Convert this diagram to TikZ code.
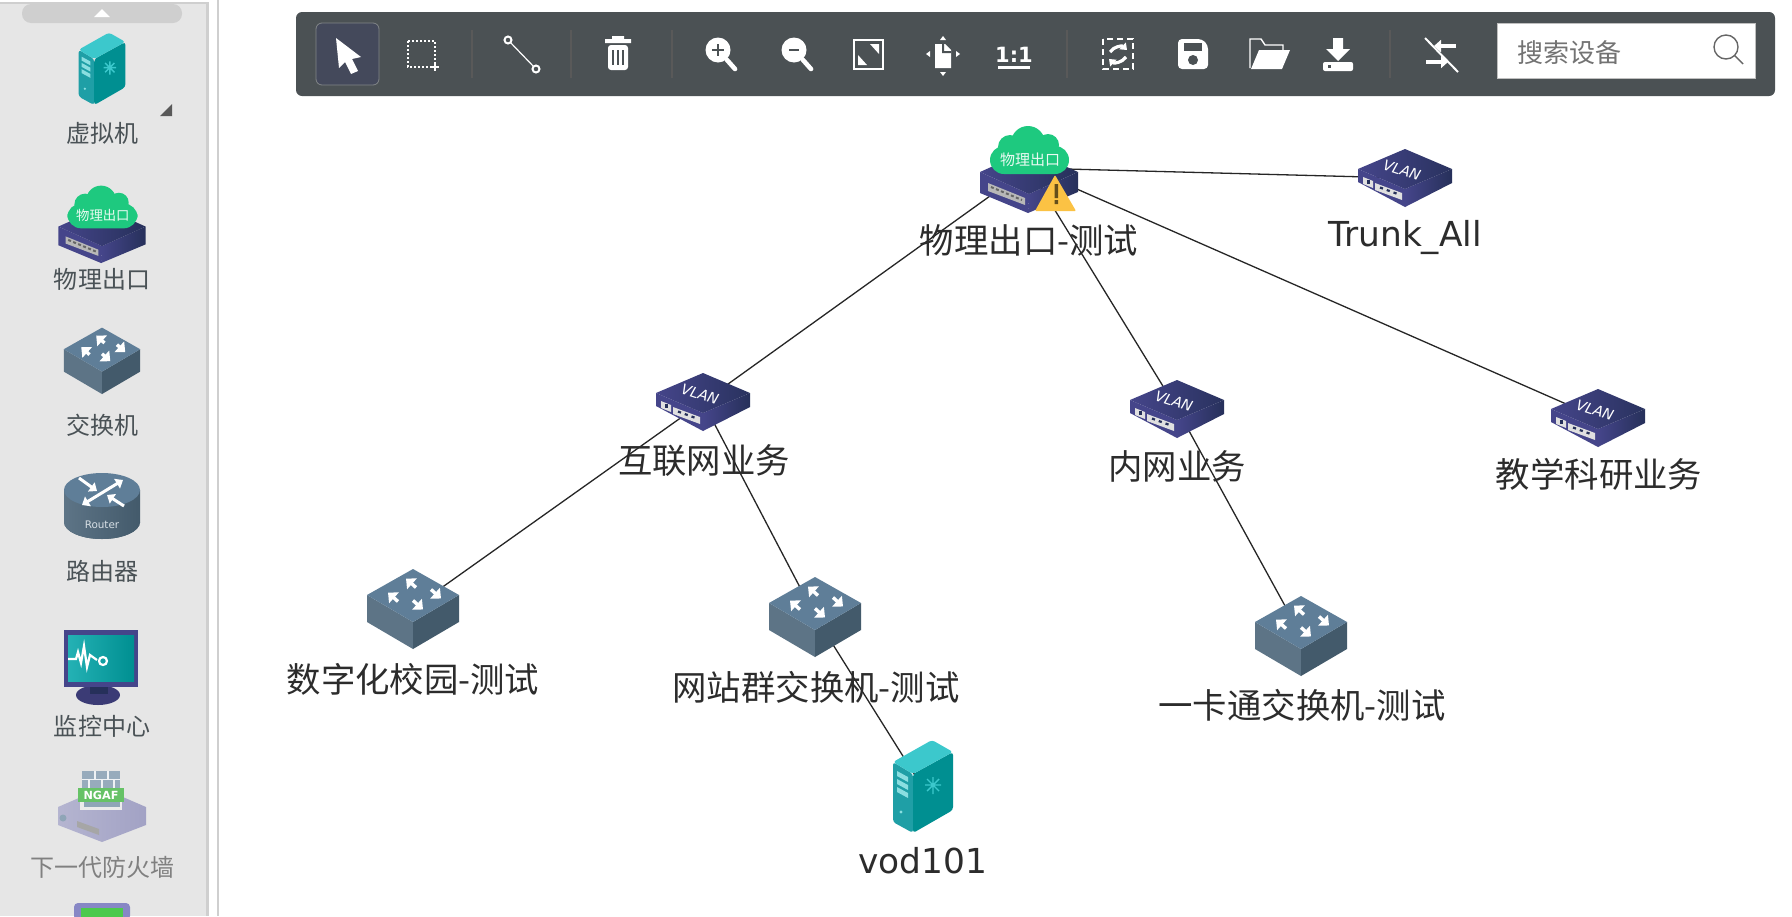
\documentclass[tikz,border=0pt]{standalone}
\usepackage{fontspec}
\usetikzlibrary{arrows.meta}
\setmainfont{DejaVu Sans}
\newfontfamily\cjk{Noto Sans CJK SC}
\definecolor{barbg}{HTML}{4B5154}
\definecolor{sidebg}{HTML}{E6E6E6}
\definecolor{sideln}{HTML}{CFCFCF}
\definecolor{sidetx}{HTML}{4A5256}
\definecolor{toptx}{HTML}{2C2C2C}
\definecolor{vlanA}{HTML}{45458A}
\definecolor{vlanB}{HTML}{26305A}
\definecolor{swtop}{HTML}{5F7E98}
\definecolor{swleft}{HTML}{5D7486}
\definecolor{swright}{HTML}{435A6B}
\definecolor{srvtop}{HTML}{3CC8CC}
\definecolor{srvleft}{HTML}{1F9FA6}
\definecolor{srvright}{HTML}{008F91}
\definecolor{cloudgn}{HTML}{1EC97F}
\definecolor{warnyl}{HTML}{FBC244}
\tikzset{
  devnode/.style={inner sep=0pt,minimum size=0pt},
  netline/.style={draw=black!85,line width=.65pt},
  toplabel/.style={inner sep=0pt,text=toptx,font=\cjk\fontsize{17.2pt}{19pt}\selectfont},
  latlabel/.style={inner sep=0pt,text=toptx,font=\fontsize{17.2pt}{19pt}\selectfont},
  sidelabel/.style={inner sep=0pt,text=sidetx,font=\cjk\fontsize{12pt}{14pt}\selectfont},
  barsep/.style={draw=black!65,line width=.6pt},
  baricon/.style={draw=white,line width=1pt},
  swarrow/.style={draw=white,line width=1.7pt,-{Triangle[length=4pt,width=7pt]}},
  rtarrow/.style={draw=white,line width=1.5pt,-{Triangle[length=3.5pt,width=5.5pt]}},
  vlanbox/.pic={
    \fill[vlanA] (-47,-9)--(0,11)--(0,29)--(-47,4)--cycle;
    \shade[left color=vlanA,right color=vlanB] (0,11)--(47,-9)--(47,5)--(0,29)--cycle;
    \shade[left color=vlanA,right color=vlanB!90!vlanA] (0,-29)--(47,-9)--(0,11)--(-47,-9)--cycle;
    \fill[black!12] (-42,-1)--(-32,3)--(-32,10)--(-42,6)--cycle;
    \fill[black!12] (-30,5)--(-3,15)--(-3,22)--(-30,12)--cycle;
    \draw[vlanB,line width=1.1pt,dash pattern=on 1.6pt off 2pt] (-25,9.5)--(-6,16.5);
    \fill[vlanB] (-38,2) rectangle (-35,6);
    \node[white,rotate=-18,inner sep=0pt,font=\itshape\fontsize{7.2pt}{7pt}\selectfont] at (-3,-8) {VLAN};
  },
  switchbox/.pic={
    \fill[swleft] (-46,-13)--(0,14)--(0,41)--(-46,14)--cycle;
    \fill[swright] (46,-13)--(0,14)--(0,41)--(46,14)--cycle;
    \fill[swtop] (0,-39)--(46,-13)--(0,14)--(-46,-13)--cycle;
    \draw[swarrow] (3,-20.5)--(-7,-29.5);
    \draw[swarrow] (-15,-6.5)--(-25,-15.5);
    \draw[swarrow] (18,-18.5)--(28,-9.5);
    \draw[swarrow] (0,-7.5)--(10,1.5);
  },
  serverbox/.pic={
    \fill[srvleft,rounded corners=1.5pt] (-30,-26)--(-10,-14)--(-10,45)--(-30,34)--cycle;
    \fill[srvright,rounded corners=1.5pt] (-10,-14)--(30,-36)--(30,22)--(-10,45)--cycle;
    \fill[srvtop,rounded corners=1.5pt] (9,-48)--(30,-36)--(-10,-14)--(-30,-26)--cycle;
    \fill[srvtop!60!white] (-26,-17)--(-15,-11)--(-15,-6)--(-26,-12)--cycle;
    \fill[srvtop!60!white] (-26,-9)--(-15,-3)--(-15,2)--(-26,-4)--cycle;
    \fill[srvtop!60!white] (-26,-1)--(-15,5)--(-15,10)--(-26,4)--cycle;
    \fill[srvtop!60!white] (-22,24) circle (1.6);
    \draw[srvtop,line width=.7pt] (2,-3)--(18,-3) (10,-11)--(10,6) (4,-9)--(16,3) (16,-9)--(4,3);
  },
  egressbox/.pic={
    \fill[vlanA] (-49,4)--(0,26)--(-1,45)--(-49,25)--cycle;
    \shade[left color=vlanA,right color=vlanB] (0,26)--(49,4)--(49,24)--(-1,45)--cycle;
    \shade[left color=vlanA,right color=vlanB] (0,-18)--(49,4)--(0,26)--(-49,4)--cycle;
    \fill[black!28] (-41,15)--(-4,30)--(-4,37)--(-41,23)--cycle;
    \draw[black!60,line width=1pt,dash pattern=on 1.5pt off 1.2pt] (-38,19)--(-7,32);
    \fill[cloudgn,rounded corners=7pt] (-39,-22) rectangle (40,6);
    \fill[cloudgn] (-1,-25) circle (17) (-19,-21) circle (12) (19,-23) circle (11);
    \node[white!90!cloudgn,transform shape,inner sep=0pt,font=\cjk\fontsize{7.5pt}{8pt}\selectfont] at (1,-8) {物理出口};
  }
}
\begin{document}
\begin{tikzpicture}[x=.5pt,y=-.5pt]
\useasboundingbox (0,0) rectangle (1792,916);
\fill[white] (0,0) rectangle (1792,916);
\fill[sidebg] (0,3) rectangle (206,916);
\fill[sideln] (0,2) rectangle (208,4);
\fill[sideln] (206,2) rectangle (209,916);
\fill[sideln] (216.5,0) rectangle (218.5,916);
\fill[sideln,rounded corners=4.5pt] (22,4) rectangle (182,23);
\fill[white] (102,9)--(110,17)--(94,17)--cycle;
\fill[black!65] (172,104)--(172,116)--(160,116)--cycle;
\pic[scale=.78] at (102,70) {serverbox};
\pic[scale=.89] at (102,223) {egressbox};
\pic[scale=.83] at (102,360) {switchbox};
\fill[swright] (102,522) ellipse (38 and 17);
\shade[left color=swleft,right color=swright] (64,490) rectangle (140,522);
\shade[left color=swleft,right color=swright] (64,522) arc[start angle=180,end angle=360,x radius=38,y radius=-17]--cycle;
\fill[swtop] (102,490) ellipse (38 and 17);
\draw[rtarrow,{Triangle[length=3.5pt,width=5.5pt]}-{Triangle[length=3.5pt,width=5.5pt]}] (82,505)--(123,480);
\draw[rtarrow] (79,478)--(97,491);
\draw[rtarrow] (124,506)--(107,495);
\node[inner sep=0pt,text=white!75!swtop,font=\fontsize{5.2pt}{6pt}\selectfont] (routertxt) at (102,525) {Router};
\fill[vlanA!85!black] (98,695) ellipse (22 and 10);
\fill[vlanB] (90,685) rectangle (108,694);
\fill[vlanA] (64,630) rectangle (138,687);
\shade[left color=srvtop!60!srvright,right color=srvright] (68,635) rectangle (134,681);
\draw[white,line width=1.1pt] (68,659)--(76,659)--(78,652)--(81,663)--(84,646)--(87,667)--(90,655)--(97,660);
\draw[white,line width=1.1pt] (103,661) circle (4);
\shade[left color=vlanA!40!white,right color=vlanA!50!white] (58,807)--(102,788)--(146,807)--(146,825)--(102,842)--(58,825)--cycle;
\fill[white!92!black] (80,796) rectangle (122,810);
\fill[swtop!65!white] (82,771) rectangle (120,788);
\draw[white!90!swtop,line width=.7pt] (82,779.5)--(120,779.5) (95,771)--(95,779) (108,771)--(108,779) (89,780)--(89,788) (102,780)--(102,788) (114,780)--(114,788);
\fill[swtop!70!white] (84,802) rectangle (120,807);
\fill[green!60!black!60!white] (78,788) rectangle (124,802);
\node[white,inner sep=0pt,font=\bfseries\fontsize{5.6pt}{6pt}\selectfont] (ngaftxt) at (101,795) {NGAF};
\fill[black!35] (77,821)--(99,829)--(99,835)--(77,827)--cycle;
\fill[swtop!70!white] (63,818) circle (3.5);
\fill[blue!35!gray!70!white,rounded corners=2pt] (74,903) rectangle (130,920);
\fill[green!70!black!70!white] (81,908) rectangle (123,920);
\node[sidelabel] (sidesrv) at (102,133) {虚拟机};
\node[sidelabel] (sideegr) at (102,279) {物理出口};
\node[sidelabel] (sidesw) at (102,425) {交换机};
\node[sidelabel] (siderouter) at (102,571) {路由器};
\node[sidelabel] (sidemon) at (102,726) {监控中心};
\node[sidelabel,text=black!50] (sidengaf) at (102,867) {下一代防火墙};
\fill[barbg,rounded corners=3pt] (296,12) rectangle (1775,96);
\draw[fill=black!40!blue!10!barbg,draw=white!30!barbg,rounded corners=3pt] (316,23) rectangle (379,85);
\fill[white] (336,38)--(361,57)--(352,59)--(358,71)--(351,74)--(345,62)--(339,68)--cycle;
\draw[baricon,densely dotted] (408,41) rectangle (435,67);
\draw[white,line width=.6pt] (431,67)--(439,67) (435,63)--(435,71);
\draw[barsep] (472,30)--(472,78);
\draw[white,line width=.6pt] (509,41)--(535,68);
\draw[baricon,fill=barbg] (508,40) circle (3.5) (536,69) circle (3.5);
\draw[barsep] (571,30)--(571,78);
\fill[white] (605,39) rectangle (631,43) (612,36) rectangle (624,39);
\fill[white,rounded corners=1.5pt] (608,45) rectangle (628,70);
\draw[barbg,line width=.6pt] (613,50)--(613,65) (618,50)--(618,65) (623,50)--(623,65);
\draw[barsep] (672,30)--(672,78);
\fill[white] (718,50) circle (12.5);
\draw[white,line width=2.3pt,line cap=round] (727,60)--(735,69);
\draw[barbg,line width=1.1pt] (712,50)--(724,50) (718,44)--(718,56);
\fill[white] (794,50) circle (12.5);
\draw[white,line width=2.3pt,line cap=round] (803,60)--(811,69);
\draw[barbg,line width=1.1pt] (789,50)--(799,50);
\draw[baricon] (854,40) rectangle (883,69);
\fill[white] (879,44)--(879,54)--(870,44)--cycle (858,65)--(858,55)--(867,65)--cycle;
\fill[white] (935,44)--(945,44)--(951,50)--(951,68)--(935,68)--cycle;
\fill[barbg] (944,44)--(944,51)--(951,51)--(951,53)--(942,53)--(942,44)--cycle;
\fill[white] (943,36)--(946,40)--(940,40)--cycle (943,76)--(946,72)--(940,72)--cycle;
\fill[white] (926,54)--(930,51)--(930,57)--cycle (960,54)--(956,51)--(956,57)--cycle;
\node[white,inner sep=0pt,font=\bfseries\fontsize{10.5pt}{12pt}\selectfont] (oneone) at (1014,55) {1:1};
\fill[white] (998,66) rectangle (1030,69);
\draw[barsep] (1067,30)--(1067,78);
\draw[baricon,densely dashed] (1103,39) rectangle (1133,69);
\draw[white,line width=1.6pt,-{Triangle[length=3pt,width=4.5pt]}] (1110,52) to[bend left=50] (1127,50);
\draw[white,line width=1.6pt,-{Triangle[length=3pt,width=4.5pt]}] (1126,57) to[bend left=50] (1109,59);
\fill[white,rounded corners=2pt] (1178,39)--(1202,39)--(1208,45)--(1208,69)--(1178,69)--cycle;
\fill[barbg] (1184,43) rectangle (1202,51);
\fill[barbg] (1193,60) circle (5);
\draw[white,line width=.7pt] (1250,68)--(1250,39)--(1261,39)--(1265,45)--(1283,45)--(1283,50);
\fill[white] (1259,50)--(1290,50)--(1282,69)--(1251,69)--cycle;
\fill[white] (1333,38) rectangle (1343,49) (1326,49)--(1350,49)--(1338,61)--cycle;
\fill[white,rounded corners=1pt] (1323,62) rectangle (1353,71);
\fill[barbg] (1328,65) rectangle (1331,68);
\draw[barsep] (1390,30)--(1390,78);
\draw[white,line width=1.8pt,-{Triangle[length=3.5pt,width=6pt]}] (1456,46)--(1434,46);
\draw[white,line width=1.8pt,-{Triangle[length=3.5pt,width=6pt]}] (1426,62)--(1448,62);
\draw[white,line width=1pt] (1425,38)--(1458,72);
\draw[fill=white,draw=black!25] (1497,23) rectangle (1755,78);
\node[sidelabel,text=black!55,font=\cjk\fontsize{13pt}{14pt}\selectfont] (searchtxt) at (1569,53) {搜索设备};
\draw[black!60,line width=.7pt] (1726,47) circle (12) (1735,56)--(1743,64);
\node[devnode] (egress) at (1029,168) {};
\node[devnode] (trunkall) at (1405,178) {};
\node[devnode] (netbiz) at (703,402) {};
\node[devnode] (intrabiz) at (1177,409) {};
\node[devnode] (edubiz) at (1598,418) {};
\node[devnode] (campussw) at (413,608) {};
\node[devnode] (sitesw) at (815,616) {};
\node[devnode] (cardsw) at (1301,635) {};
\node[devnode] (vodsrv) at (923,788) {};
\draw[netline] (egress)--(trunkall);
\draw[netline] (egress)--(netbiz);
\draw[netline] (egress)--(intrabiz);
\draw[netline] (egress)--(edubiz);
\draw[netline] (netbiz)--(campussw);
\draw[netline] (netbiz)--(sitesw);
\draw[netline] (intrabiz)--(cardsw);
\draw[netline] (sitesw)--(vodsrv);
\pic at (egress) {egressbox};
\fill[warnyl,rounded corners=.5pt] (1055,175)--(1076,211)--(1035,211)--cycle;
\fill[black!60!warnyl] (1054.5,184) rectangle (1058,198) (1054.5,200) rectangle (1058,204);
\pic at (trunkall) {vlanbox};
\pic at (netbiz) {vlanbox};
\pic at (intrabiz) {vlanbox};
\pic at (edubiz) {vlanbox};
\pic at (campussw) {switchbox};
\pic at (sitesw) {switchbox};
\pic at (cardsw) {switchbox};
\pic at (vodsrv) {serverbox};
\node[toplabel] (egressL) at (1029,240) {物理出口-测试};
\node[latlabel] (trunkL) at (1405,237) {Trunk\_All};
\node[toplabel] (netL) at (704,461) {互联网业务};
\node[toplabel] (intraL) at (1177,466) {内网业务};
\node[toplabel] (eduL) at (1599,474) {教学科研业务};
\node[toplabel] (campusL) at (413,679) {数字化校园-测试};
\node[toplabel] (siteL) at (816,687) {网站群交换机-测试};
\node[toplabel] (cardL) at (1302,705) {一卡通交换机-测试};
\node[latlabel] (vodL) at (923,861) {vod101};
\end{tikzpicture}
\end{document}
